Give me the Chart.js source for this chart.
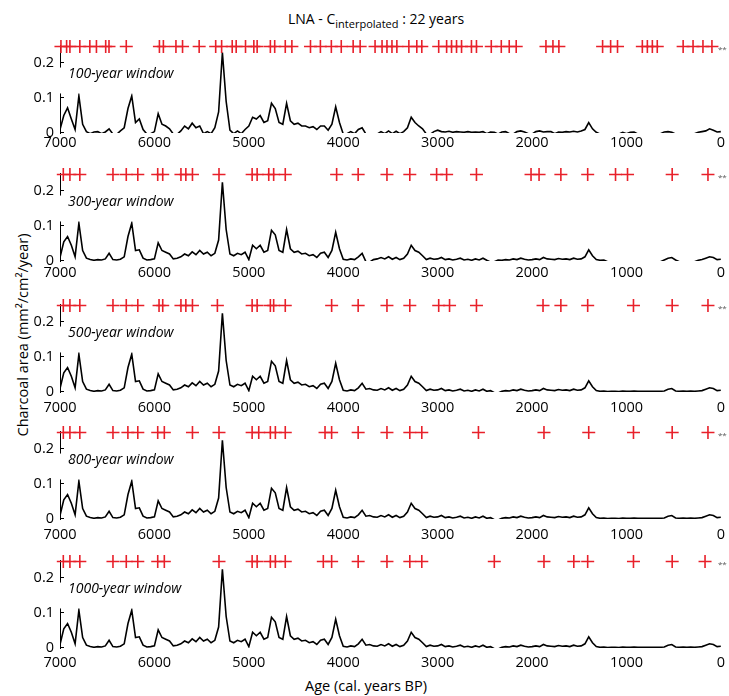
<!DOCTYPE html>
<html>
<head>
<meta charset="utf-8">
<script src="https://cdn.jsdelivr.net/npm/chart.js@4.4.1/dist/chart.umd.min.js"></script>
<style>
  body { margin: 0; background: #fff; width: 729px; height: 696px; overflow: hidden; position: relative; font-family: "Open Sans", sans-serif; color: #000; }
  .panel { position: absolute; left: 0; width: 729px; height: 140px; }
  #title { position: absolute; left: 288px; top: 9px; font-size: 14px; white-space: nowrap; color: #000; }
  #title sub { font-size: 11px; vertical-align: -4px; }
  #ylab { position: absolute; left: 22px; top: 335px; font-size: 14.5px; white-space: nowrap; color: #000; transform: translate(-50%, -50%) rotate(-90deg); }
  #xlab { position: absolute; left: 366px; top: 685px; font-size: 14.5px; white-space: nowrap; color: #000; transform: translate(-50%, -50%); }
</style>
</head>
<body>
<div id="title">LNA - C<sub>interpolated</sub> : 22 years</div>
<div id="ylab">Charcoal area (mm²/cm²/year)</div>
<div id="xlab">Age (cal. years BP)</div>
<div class="panel" style="top:21px"><canvas id="p0" width="729" height="140"></canvas></div>
<div class="panel" style="top:149px"><canvas id="p1" width="729" height="140"></canvas></div>
<div class="panel" style="top:280px"><canvas id="p2" width="729" height="140"></canvas></div>
<div class="panel" style="top:407px"><canvas id="p3" width="729" height="140"></canvas></div>
<div class="panel" style="top:536px"><canvas id="p4" width="729" height="140"></canvas></div>
<script>
// charcoal peak series, one value every 40 years from 7000 to 0 cal. BP
const step = 40;

const c100 = [
  0.010,0.050,0.072,0.040,0.010,0.106,0.025,0.004,-0.002,0.003,
  0.004,-0.002,0.003,0.012,-0.003,-0.004,0.006,0.015,0.070,0.106,
  0.030,0.040,0.010,-0.003,-0.002,0.004,0.055,0.025,0.020,0.012,
  -0.003,-0.004,0.006,0.020,0.012,0.028,0.015,0.020,-0.002,0.004,
  -0.002,0.015,0.060,0.230,0.090,0.008,-0.002,0.006,-0.002,0.010,
  0.020,0.045,0.040,0.050,0.030,0.035,0.085,0.070,0.030,0.025,
  0.085,0.035,0.025,0.028,0.020,0.020,0.015,0.018,0.010,0.020,
  0.020,0.008,0.025,0.075,0.030,-0.003,-0.002,0.004,-0.002,0.010,
  0.015,-0.003,-0.004,-0.002,-0.003,0.004,-0.002,0.006,-0.002,0.005,
  -0.002,0.004,0.015,0.045,0.030,0.020,0.012,-0.003,-0.004,0.004,
  0.008,0.004,0.003,0.005,0.002,0.004,0.003,0.002,0.004,0.002,
  0.003,0.002,0.004,-0.002,0.003,0.002,-0.003,0.003,0.004,-0.002,
  -0.003,0.004,0.006,0.003,-0.002,-0.003,0.004,0.006,0.003,0.004,
  0.004,-0.002,0.003,0.002,0.004,0.003,0.005,0.003,0.006,0.010,
  0.030,0.012,0.002,-0.003,-0.004,-0.003,-0.003,-0.004,-0.003,0.002,
  -0.002,0.002,0.003,-0.003,-0.004,-0.003,-0.002,-0.003,-0.004,-0.002,
  0.003,0.004,0.002,-0.003,-0.004,-0.003,-0.004,-0.003,-0.002,0.002,
  0.004,0.006,0.012,0.008,0.003,0.004
];

const c300 = [
  0.010,0.055,0.070,0.045,0.012,0.108,0.030,0.008,0.004,0.002,
  0.004,0.003,0.006,0.022,0.004,0.003,0.005,0.012,0.070,0.108,
  0.030,0.032,0.008,0.003,0.004,0.006,0.052,0.030,0.025,0.020,
  0.006,0.008,0.012,0.020,0.015,0.026,0.018,0.030,0.020,0.025,
  0.015,0.022,0.060,0.225,0.090,0.020,0.015,0.022,0.018,0.025,
  0.004,0.045,0.035,0.045,0.025,0.030,0.088,0.075,0.030,0.025,
  0.090,0.035,0.025,0.028,0.020,0.022,0.015,0.018,0.010,0.022,
  0.025,0.010,0.030,0.082,0.035,0.005,0.003,0.006,0.004,0.012,
  0.022,-0.002,-0.003,0.004,0.006,0.010,0.006,0.012,0.005,0.010,
  0.004,0.008,0.020,0.045,0.030,0.025,0.015,0.004,0.008,0.005,
  0.006,0.010,0.004,0.006,0.003,0.005,0.008,0.003,0.005,0.002,
  0.006,0.003,0.008,0.002,-0.003,-0.002,0.003,0.002,0.004,0.003,
  0.006,0.004,0.008,0.005,0.003,0.004,0.006,0.004,0.010,0.006,
  0.005,0.004,0.007,0.005,0.006,0.004,0.008,0.005,0.006,0.012,
  0.032,0.015,0.004,0.002,0.003,-0.002,-0.003,-0.002,-0.003,-0.002,
  -0.003,-0.002,-0.003,-0.002,-0.003,-0.002,-0.003,-0.002,-0.003,-0.002,
  0.003,0.008,0.010,0.003,-0.002,-0.003,-0.002,-0.003,-0.002,0.002,
  0.004,0.008,0.012,0.010,0.004,0.005
];

const cLong = [
  0.010,0.055,0.070,0.045,0.012,0.108,0.030,0.008,0.004,0.002,
  0.004,0.003,0.006,0.022,0.004,0.003,0.005,0.012,0.070,0.108,
  0.030,0.032,0.008,0.003,0.004,0.006,0.052,0.030,0.025,0.020,
  0.006,0.008,0.012,0.020,0.015,0.026,0.018,0.030,0.020,0.025,
  0.015,0.022,0.060,0.225,0.090,0.020,0.015,0.022,0.018,0.025,
  0.004,0.045,0.035,0.045,0.025,0.030,0.088,0.075,0.030,0.025,
  0.090,0.035,0.025,0.028,0.020,0.022,0.015,0.018,0.010,0.022,
  0.025,0.010,0.030,0.082,0.035,0.005,0.003,0.006,0.004,0.012,
  0.025,0.008,0.010,0.006,0.005,0.010,0.006,0.012,0.005,0.010,
  0.004,0.008,0.020,0.045,0.030,0.025,0.015,0.004,0.008,0.005,
  0.006,0.010,0.004,0.006,0.003,0.005,0.008,0.003,0.005,0.002,
  0.006,0.003,0.008,0.002,0.004,-0.002,-0.003,0.002,0.004,0.003,
  0.006,0.004,0.008,0.005,0.003,0.004,0.006,0.004,0.010,0.006,
  0.005,0.004,0.007,0.005,0.006,0.004,0.008,0.005,0.006,0.012,
  0.032,0.015,0.004,0.002,0.003,0.001,0.002,0.002,0.001,0.003,
  0.002,0.002,0.003,0.002,0.002,0.002,0.002,0.002,0.002,0.002,
  0.003,0.008,0.010,0.003,0.002,0.003,0.002,0.003,0.002,0.003,
  0.004,0.008,0.012,0.010,0.004,0.005
];

// detected peak ages (red crosses) for each window width
const peaks100 = [6990,6930,6895,6790,6684,6614,6516,6481,6298,5947,5905,5772,5702,5526,5351,5288,5176,5134,5035,4947,4912,4772,4726,4614,4544,4347,4242,4126,4021,3895,3821,3663,3589,3537,3484,3432,3305,3221,3168,2989,2905,2853,2800,2747,2642,2589,2432,2326,2242,2168,1853,1779,1716,1253,1168,1095,832,779,726,674,400,295,190,95];
const peaks300 = [6965,6895,6790,6439,6298,6176,5965,5912,5719,5667,5597,5316,4965,4912,4789,4737,4614,4070,3842,3537,3295,3011,2905,2589,2011,1926,1695,1411,1116,989,516,137];
const peaks500 = [6965,6895,6790,6439,6298,6176,5951,5912,5719,5667,5597,5333,4965,4912,4772,4737,4614,4123,3842,3537,3295,2989,2874,2589,1884,1695,1411,926,516,137];
const peaks800 = [6965,6895,6790,6439,6281,6176,5965,5895,5597,5316,4965,4895,4772,4719,4614,4193,4123,3842,3537,3295,3168,2568,1874,1400,926,516,137];
const peaks1000 = [6965,6895,6790,6439,6298,6176,5965,5895,5316,4965,4912,4772,4719,4614,4211,4123,3842,3537,3295,3168,2400,1874,1558,1411,926,516,168];

const windowLabels = ["100-year window","300-year window","500-year window","800-year window","1000-year window"];
const xTicks = [0,1000,2000,3000,4000,5000,6000,7000];
const yTicks = [0,0.1,0.2];
const peakLevel = 0.247;

const panels = [
  { series: c100, peaks: peaks100, label: windowLabels[0], tickPad: 1 },
  { series: c300, peaks: peaks300, label: windowLabels[1], tickPad: 3 },
  { series: cLong, peaks: peaks500, label: windowLabels[2], tickPad: 7 },
  { series: cLong, peaks: peaks800, label: windowLabels[3], tickPad: 7 },
  { series: cLong, peaks: peaks1000, label: windowLabels[4], tickPad: 6 }
];

const red = "#e8202a";
const tickFont = { family: "Open Sans", size: 14.5 };

const extras = {
  id: "extras",
  afterDraw(chart, args, opts) {
    const { ctx, chartArea, scales: { y } } = chart;
    ctx.save();
    // short inward ticks on the left axis
    ctx.strokeStyle = "#000";
    ctx.lineWidth = 1;
    yTicks.forEach(v => {
      const py = Math.round(y.getPixelForValue(v)) - 0.5;
      ctx.beginPath();
      ctx.moveTo(chartArea.left, py);
      ctx.lineTo(chartArea.left + 4, py);
      ctx.stroke();
    });
    // window label on a white box
    ctx.font = "italic 14px 'Open Sans'";
    const w = ctx.measureText(opts.label).width;
    const yTop = y.getPixelForValue(0.187), yBot = y.getPixelForValue(0.113);
    ctx.fillStyle = "#fff";
    ctx.fillRect(chartArea.left - 3, yTop, w + 14, yBot - yTop);
    ctx.fillStyle = "#000";
    ctx.textBaseline = "middle";
    ctx.fillText(opts.label, chartArea.left + 8, y.getPixelForValue(0.168));
    // small marker after the last peak
    ctx.font = "8px 'Open Sans'";
    ctx.fillStyle = "#555";
    ctx.fillText("**", chartArea.right - 3, y.getPixelForValue(peakLevel) + 3);
    ctx.restore();
  }
};

panels.forEach((p, i) => {
  new Chart(document.getElementById("p" + i), {
    type: "line",
    data: {
      datasets: [
        {
          type: "scatter",
          data: p.peaks.map(a => ({ x: a, y: peakLevel })),
          pointStyle: "cross",
          pointRadius: 6.5,
          pointBorderWidth: 1.6,
          borderColor: red,
          backgroundColor: red,
          clip: false
        },
        {
          data: p.series.map((v, k) => ({ x: 7000 - step * k, y: v })),
          borderColor: "#000",
          borderWidth: 1.6,
          pointRadius: 0,
          tension: 0,
          fill: false
        }
      ]
    },
    options: {
      responsive: false,
      animation: false,
      layout: { padding: { top: 24.5, right: 4, left: 0, bottom: 0 } },
      plugins: { legend: { display: false }, tooltip: { enabled: false }, extras: { label: p.label } },
      scales: {
        x: {
          type: "linear",
          reverse: true,
          min: 0,
          max: 7000,
          afterBuildTicks: s => { s.ticks = xTicks.map(v => ({ value: v })); },
          ticks: { font: tickFont, color: "#000", padding: p.tickPad, maxRotation: 0, autoSkip: false, callback: v => String(v) },
          grid: { display: false, drawTicks: false },
          border: { display: false },
          afterFit: s => { s.height = 28; }
        },
        y: {
          min: 0,
          max: 0.25,
          afterBuildTicks: s => { s.ticks = yTicks.map(v => ({ value: v })); },
          ticks: { font: tickFont, color: "#000", padding: 6, callback: v => String(v) },
          grid: { display: false, drawTicks: false },
          border: { display: true, color: "#000", width: 1 },
          afterFit: s => { s.width = 60; }
        }
      }
    },
    plugins: [extras]
  });
});
</script>
</body>
</html>
